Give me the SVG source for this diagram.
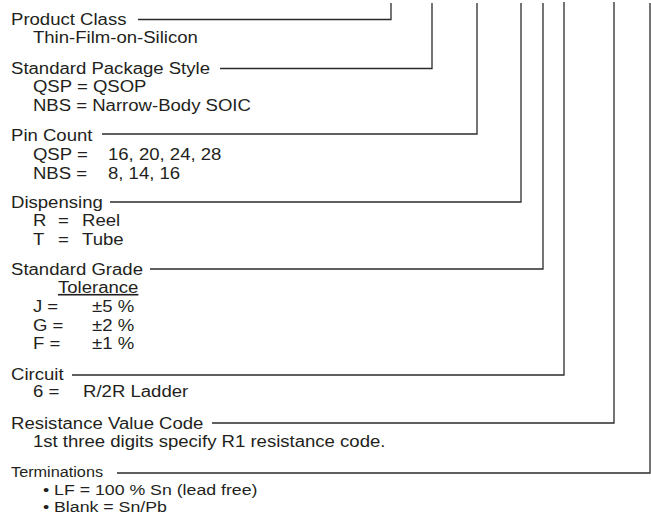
<svg xmlns="http://www.w3.org/2000/svg" width="651" height="516" viewBox="0 0 651 516">
<style>
  .t { font-family: "Liberation Sans", Arial, Helvetica, sans-serif; font-size: 16px; fill: #231f20; }
  .s { font-size: 14px; }
  .b { font-size: 15.3px; }
  .c { fill: none; stroke: #2b2b2b; stroke-width: 1.3; }
</style>
<rect width="651" height="516" fill="#ffffff"/>
<g id="connectors">
  <path class="c" d="M138,19.5 H391 V3"/>
  <path class="c" d="M220,68.5 H432 V3"/>
  <path class="c" d="M102,134 H477 V3"/>
  <path class="c" d="M110,202 H521 V3"/>
  <path class="c" d="M150,269 H543 V3"/>
  <path class="c" d="M72,375 H564 V2"/>
  <path class="c" d="M212,423 H614 V2"/>
  <path class="c" d="M117,473 H650 V3"/>
</g>
<g transform="scale(1.16 1)">
  <g id="product-class">
    <text class="t" x="9.5" y="25">Product Class</text>
    <text class="t" x="28.4" y="43">Thin-Film-on-Silicon</text>
  </g>
  <g id="package-style">
    <text class="t" x="9.5" y="74">Standard Package Style</text>
    <text class="t" x="28.4" y="92">QSP = QSOP</text>
    <text class="t" x="28.4" y="111">NBS = Narrow-Body SOIC</text>
  </g>
  <g id="pin-count">
    <text class="t" x="9.5" y="141">Pin Count</text>
    <text class="t" y="160"><tspan x="28.4">QSP =</tspan><tspan x="93.1">16, 20, 24, 28</tspan></text>
    <text class="t" y="179"><tspan x="28.4">NBS =</tspan><tspan x="93.1">8, 14, 16</tspan></text>
  </g>
  <g id="dispensing">
    <text class="t" x="9.5" y="208">Dispensing</text>
    <text class="t" y="226"><tspan x="28.4">R</tspan><tspan x="50">=</tspan><tspan x="70.7">Reel</tspan></text>
    <text class="t" y="245"><tspan x="28.4">T</tspan><tspan x="50">=</tspan><tspan x="70.7">Tube</tspan></text>
  </g>
  <g id="standard-grade">
    <text class="t" x="9.5" y="275">Standard Grade</text>
    <text class="t" x="50" y="293" text-decoration="underline">Tolerance</text>
    <text class="t" y="312"><tspan x="28.4">J =</tspan><tspan x="79.3">±5 %</tspan></text>
    <text class="t" y="331"><tspan x="28.4">G =</tspan><tspan x="79.3">±2 %</tspan></text>
    <text class="t" y="349"><tspan x="28.4">F =</tspan><tspan x="79.3">±1 %</tspan></text>
  </g>
  <g id="circuit">
    <text class="t" x="9.5" y="380">Circuit</text>
    <text class="t" y="397"><tspan x="28.4">6 =</tspan><tspan x="71.6">R/2R Ladder</tspan></text>
  </g>
  <g id="resistance-code">
    <text class="t" x="9.5" y="429">Resistance Value Code</text>
    <text class="t" x="28.4" y="447">1st three digits specify R1 resistance code.</text>
  </g>
  <g id="terminations">
    <text class="t s" x="9.5" y="477">Terminations</text>
    <text class="t b" x="37" y="495">• LF = 100 % Sn (lead free)</text>
    <text class="t b" x="37" y="512.5">• Blank = Sn/Pb</text>
  </g>
</g>
</svg>
